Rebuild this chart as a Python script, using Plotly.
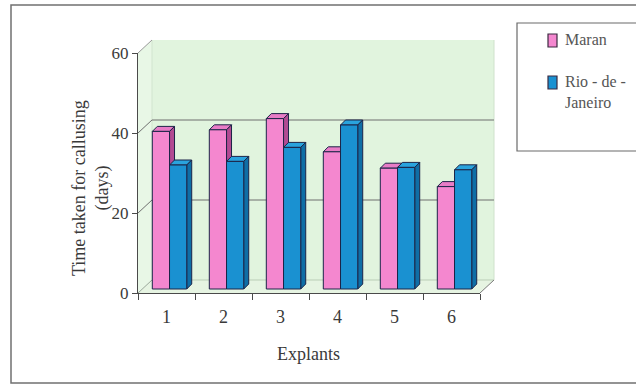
import plotly.graph_objects as go

# ---- data -------------------------------------------------------------
explants = [1, 2, 3, 4, 5, 6]
series_names = ["Maran", "Rio - de -<br>Janeiro"]
maran = [39.4, 39.8, 42.6, 34.3, 30.2, 25.6]
rio = [31.0, 31.9, 35.4, 41.0, 30.4, 29.8]
y_ticks = [0, 20, 40, 60]

# ---- styling / geometry ------------------------------------------------
W, H = 636, 385
L, R, T, B = 138, 480, 53, 293          # front plane of the plot, in pixels
FONT = "Liberation Serif"
TXT = "#3a3a3a"
EDGE = "#1c2448"

front = {"Maran": "#f487cf", "Rio": "#1a91d1"}
top_c = {"Maran": "#e87cc6", "Rio": "#2aa3dd"}
side_c = {"Maran": "#b24a92", "Rio": "#0f6ea6"}

X0, X1 = 0.5, 6.5          # x range (category units)
Y0, Y1 = 0, 60             # y range
DX, DY = 14 / 57, 13 / 4   # depth of the walls, in data units
BASE = 1.0                 # bars stand a little behind the front edge
BW = 0.302                 # bar width
OFF = {"Maran": -0.249, "Rio": 0.053}
BDX, BDY = 5 / 57, 5 / 4   # bar depth, in data units


def px(x):
    return (x - L) / (R - L)


def py(y):
    return (B - y) / (B - T)


def dpx(x):
    return (x - X0) / (X1 - X0)


def dpy(y):
    return (y - Y0) / (Y1 - Y0)


def poly(pts):
    return "M " + " L ".join(f"{a:.4f},{b:.4f}" for a, b in pts) + " Z"


shapes = []

# outer chart frame
shapes.append(dict(type="rect", xref="paper", yref="paper",
                   x0=px(11), x1=px(700), y0=py(383), y1=py(5),
                   line=dict(color="#707070", width=1.5), fillcolor="white",
                   layer="below"))

# walls and floor of the 3-D box
back = [(X0 + DX, Y0 + DY), (X0 + DX, Y1 + DY), (X1 + DX, Y1 + DY), (X1 + DX, Y0 + DY)]
side = [(X0, Y0), (X0, Y1), (X0 + DX, Y1 + DY), (X0 + DX, Y0 + DY)]
floor = [(X0, Y0), (X1, Y0), (X1 + DX, Y0 + DY), (X0 + DX, Y0 + DY)]
for pts, col in [(back, "#e1f4de"), (side, "#e8f7e6"), (floor, "#e6f4e2")]:
    shapes.append(dict(type="path", xref="paper", yref="paper",
                       path=poly([(dpx(a), dpy(b)) for a, b in pts]),
                       fillcolor=col, line=dict(width=0), layer="below"))

# wall edges
for (a0, b0), (a1, b1), col in [
    ((X0 + DX, Y0 + DY), (X1 + DX, Y0 + DY), "#b9cdb6"),
    ((X1 + DX, Y0 + DY), (X1 + DX, Y1 + DY), "#cfe2cc"),
    ((X0 + DX, Y0 + DY), (X0 + DX, Y1 + DY), "#d2e4cf"),
    ((X1, Y0), (X1 + DX, Y0 + DY), "#7a7a7a"),
    ((X0, Y0), (X0 + DX, Y0 + DY), "#9aa89a"),
]:
    shapes.append(dict(type="line", xref="paper", yref="paper",
                       x0=dpx(a0), y0=dpy(b0), x1=dpx(a1), y1=dpy(b1),
                       line=dict(color=col, width=1), layer="below"))

# gridlines on the side and back walls
for g in y_ticks[1:-1]:
    shapes.append(dict(type="path", xref="paper", yref="paper",
                       path="M {:.4f},{:.4f} L {:.4f},{:.4f} L {:.4f},{:.4f}".format(
                           dpx(X0), dpy(g), dpx(X0 + DX), dpy(g + DY),
                           dpx(X1 + DX), dpy(g + DY)),
                       line=dict(color="#6f6f6f", width=1), layer="below"))
# top edge of the side wall
shapes.append(dict(type="line", xref="paper", yref="paper",
                   x0=dpx(X0), y0=dpy(Y1), x1=dpx(X0 + DX), y1=dpy(Y1 + DY),
                   line=dict(color="#9a9a9a", width=1), layer="below"))

# top and side faces of each bar, computed from the values
for name, vals in [("Maran", maran), ("Rio", rio)]:
    for xc, v in zip(explants, vals):
        x0 = xc + OFF[name]
        x1 = x0 + BW
        t = BASE + v
        shapes.append(dict(type="path", xref="x", yref="y", layer="below",
                           path=poly([(x0, t), (x0 + BDX, t + BDY),
                                      (x1 + BDX, t + BDY), (x1, t)]),
                           fillcolor=top_c[name], line=dict(color=EDGE, width=1)))
        shapes.append(dict(type="path", xref="x", yref="y", layer="below",
                           path=poly([(x1, BASE), (x1, t), (x1 + BDX, t + BDY),
                                      (x1 + BDX, BASE + BDY)]),
                           fillcolor=side_c[name], line=dict(color=EDGE, width=1)))

fig = go.Figure()
for key, label, vals in [("Maran", series_names[0], maran), ("Rio", series_names[1], rio)]:
    fig.add_trace(go.Bar(
        x=explants, y=vals, base=BASE, offset=OFF[key], width=BW,
        name=label, marker=dict(color=front[key], line=dict(color=EDGE, width=1)),
        showlegend=False))

# legend box
shapes.append(dict(type="rect", xref="paper", yref="paper",
                   x0=px(517), x1=px(700), y0=py(151), y1=py(23),
                   line=dict(color="#6a6a6a", width=1.2), fillcolor="white"))
annotations = []
legend_rows = [("Maran", 34, 47, 39, series_names[0]),
               ("Rio", 76, 89, 92, series_names[1])]
for key, s0, s1, ty, label in legend_rows:
    shapes.append(dict(type="rect", xref="paper", yref="paper",
                       x0=px(548), x1=px(557), y0=py(s1), y1=py(s0),
                       fillcolor=front[key], line=dict(color="#3a2a40", width=1.2)))
    annotations.append(dict(xref="paper", yref="paper", x=px(563), y=py(ty),
                            xanchor="left", yanchor="middle", align="left",
                            text=label, showarrow=False,
                            font=dict(family=FONT, size=16, color="#555555")))

# axis titles
annotations.append(dict(xref="paper", yref="paper", x=px(91), y=py(188),
                        text="Time taken for callusing<br>(days)", textangle=-90,
                        showarrow=False, xanchor="center", yanchor="middle",
                        font=dict(family=FONT, size=18, color=TXT)))
annotations.append(dict(xref="paper", yref="paper", x=px(308), y=py(354),
                        text="Explants", showarrow=False,
                        xanchor="center", yanchor="middle",
                        font=dict(family=FONT, size=18, color=TXT)))

fig.update_layout(
    width=W, height=H,
    margin=dict(l=L, r=W - R, t=T, b=H - B, pad=0),
    paper_bgcolor="white", plot_bgcolor="rgba(0,0,0,0)",
    barmode="overlay", showlegend=False,
    shapes=shapes, annotations=annotations,
    xaxis=dict(range=[X0, X1], tickmode="array", tickvals=explants,
               ticktext=[str(e) for e in explants], ticks="",
               showgrid=False, zeroline=False, showline=True,
               linecolor="#4a4a4a", linewidth=1, ticklabelstandoff=7,
               minor=dict(ticks="outside", tick0=0.5, dtick=1, ticklen=6,
                          tickcolor="#4a4a4a", showgrid=False),
               tickfont=dict(family=FONT, size=18, color=TXT)),
    yaxis=dict(range=[Y0, Y1], tickmode="array", tickvals=y_ticks,
               ticks="outside", ticklen=5, tickcolor="#4a4a4a",
               showgrid=False, zeroline=False, showline=True,
               linecolor="#4a4a4a", linewidth=1,
               tickfont=dict(family=FONT, size=17, color=TXT)),
)

fig.write_html("out.html")
